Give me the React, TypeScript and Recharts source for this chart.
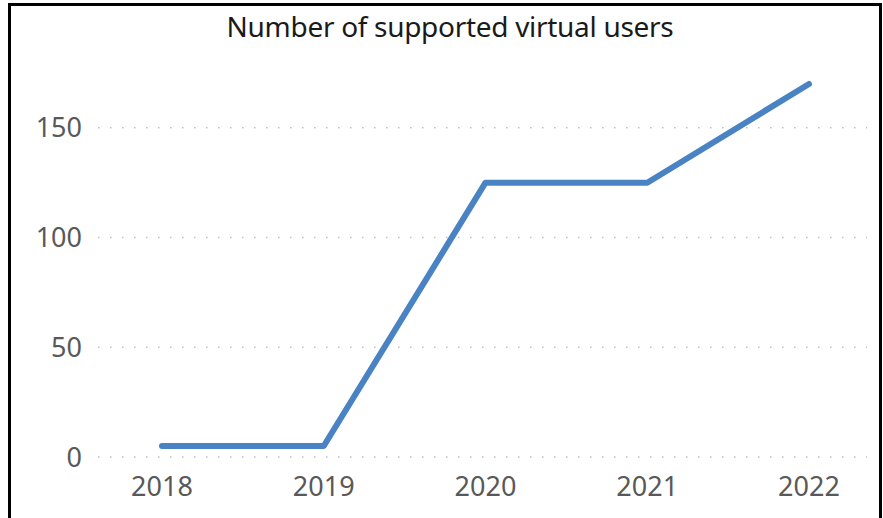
import { CartesianGrid, Line, LineChart, XAxis, YAxis } from "recharts";

const years = ["2018", "2019", "2020", "2021", "2022"];
const virtualUsers = [5, 5, 125, 125, 170];
const yTicks = [0, 50, 100, 150];

const chartData = years.map((year, i) => ({ year, users: virtualUsers[i] }));

const FONT = "'Noto Sans', 'Open Sans', sans-serif";
const tickStyle = { fill: "#595959", fontSize: 27, fontFamily: FONT };

export default function App() {
  return (
    <div
      style={{
        position: "absolute",
        left: 0,
        top: 0,
        width: 883,
        height: 518,
        overflow: "hidden",
        background: "#ffffff",
      }}
    >
      {/* chart frame, bottom edge falls outside the picture */}
      <div
        style={{
          position: "absolute",
          left: 8,
          top: 3,
          width: 868,
          height: 560,
          border: "3px solid #000000",
        }}
      />
      <div
        style={{
          position: "absolute",
          left: 0,
          top: 6,
          width: 900,
          textAlign: "center",
          fontFamily: FONT,
          fontSize: 28,
          lineHeight: "40px",
          color: "#1a1a1a",
          letterSpacing: "-0.3px",
        }}
      >
        Number of supported virtual users
      </div>
      <LineChart
        width={883}
        height={518}
        data={chartData}
        margin={{ top: 62, right: 16, bottom: 21, left: 0 }}
        style={{ position: "absolute", left: 0, top: 0 }}
      >
        <CartesianGrid
          vertical={false}
          horizontalValues={yTicks}
          stroke="#bfbfbf"
          strokeWidth={1.5}
          strokeDasharray="1.5 10.5"
        />
        <XAxis
          dataKey="year"
          axisLine={false}
          tickLine={false}
          tickSize={0}
          tickMargin={20}
          height={40}
          padding={{ left: 64, right: 58 }}
          tick={tickStyle}
          interval={0}
        />
        <YAxis
          domain={[0, 180]}
          ticks={yTicks}
          axisLine={false}
          tickLine={false}
          tickSize={0}
          tickMargin={16}
          width={98}
          tick={tickStyle}
        />
        <Line
          type="linear"
          dataKey="users"
          stroke="#4a83c4"
          strokeWidth={6}
          strokeLinecap="round"
          strokeLinejoin="round"
          dot={false}
          activeDot={false}
          isAnimationActive={false}
        />
      </LineChart>
    </div>
  );
}
